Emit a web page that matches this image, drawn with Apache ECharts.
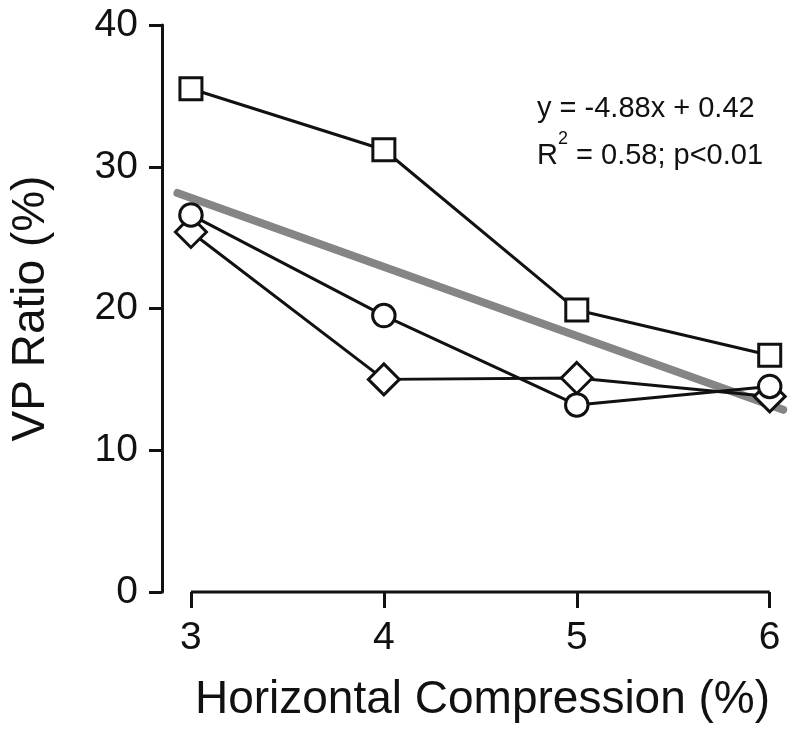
<!DOCTYPE html>
<html>
<head>
<meta charset="utf-8">
<script src="https://cdn.jsdelivr.net/npm/echarts@6/dist/echarts.min.js"></script>
<style>
html,body{margin:0;padding:0;background:#fff;}
#chart{width:800px;height:733px;}
</style>
</head>
<body>
<div id="chart"></div>
<script>
// ---- data ----
const compression = [3, 4, 5, 6];            // Horizontal Compression (%)
const squareSeries = [35.5, 31.2, 19.9, 16.7];  // VP Ratio (%)
const circleSeries = [26.6, 19.5, 13.2, 14.5];
const diamondSeries = [25.4, 15.0, 15.1, 13.8];
const trendX = [2.93, 6.07];                 // regression line ends
const trendY = [28.15, 12.85];
const yTicks = [0, 10, 20, 30, 40];
const equationLine1 = 'y = -4.88x + 0.42';
const equationLine2 = ['R', '2', ' = 0.58; p<0.01'];

const FONT = '"Liberation Sans", Arial, Helvetica, sans-serif';
const INK = '#111111';
const W = 3;

const pairs = (xs, ys) => xs.map((x, i) => [x, ys[i]]);

const markerSeries = (data, symbol, size) => ({
  type: 'line',
  data: pairs(compression, data),
  symbol: symbol,
  symbolSize: size,
  showAllSymbol: true,
  lineStyle: { color: INK, width: W },
  itemStyle: { color: '#ffffff', borderColor: INK, borderWidth: W },
  emphasis: { disabled: true },
  z: 3
});

const chart = echarts.init(document.getElementById('chart'), null, { renderer: 'canvas' });
chart.setOption({
  animation: false,
  backgroundColor: '#ffffff',
  grid: { left: 162, right: 11, top: 25, bottom: 141, containLabel: false },
  xAxis: {
    type: 'value',
    min: 2.85,
    max: 6.1,
    axisLine: { show: false },
    splitLine: { show: false },
    axisTick: {
      show: true, customValues: compression, length: 16,
      lineStyle: { color: INK, width: W }
    },
    axisLabel: {
      customValues: compression, margin: 27,
      fontFamily: FONT, fontSize: 39, color: INK
    },
    name: 'Horizontal Compression (%)',
    nameLocation: 'middle',
    nameGap: 85,
    nameTextStyle: { fontFamily: FONT, fontSize: 46, color: INK, padding: [0, 0, 0, 14] }
  },
  yAxis: {
    type: 'value',
    min: yTicks[0],
    max: yTicks[yTicks.length - 1],
    interval: 10,
    axisLine: { show: true, lineStyle: { color: INK, width: W } },
    axisTick: { show: true, length: 13, lineStyle: { color: INK, width: W } },
    splitLine: { show: false },
    axisLabel: { margin: 24, fontFamily: FONT, fontSize: 39, color: INK },
    name: 'VP Ratio (%)',
    nameLocation: 'middle',
    nameGap: 108,
    nameRotate: 90,
    nameTextStyle: { fontFamily: FONT, fontSize: 46, color: INK }
  },
  graphic: [
    {
      type: 'text',
      left: 537,
      top: 94,
      style: {
        text: equationLine1,
        font: '29px ' + FONT,
        fill: INK
      }
    },
    {
      type: 'text',
      left: 537,
      top: 130,
      style: {
        text: '{b|' + equationLine2[0] + '}{s|' + equationLine2[1] + '}{b|' + equationLine2[2] + '}',
        rich: {
          b: { fontFamily: FONT, fontSize: 29, fill: INK, color: INK, verticalAlign: 'bottom', lineHeight: 40 },
          s: { fontFamily: FONT, fontSize: 18, fill: INK, color: INK, verticalAlign: 'top', lineHeight: 40, padding: [0, 0, 20, 0] }
        }
      }
    }
  ],
  series: [
    {
      type: 'line',
      data: pairs(trendX, trendY),
      symbol: 'none',
      lineStyle: { color: '#858585', width: 8, cap: 'round' },
      emphasis: { disabled: true },
      z: 1
    },
    {
      type: 'line',
      data: [[compression[0], 0], [compression[compression.length - 1], 0]],
      symbol: 'none',
      clip: false,
      lineStyle: { color: INK, width: W },
      emphasis: { disabled: true },
      z: 2
    },
    markerSeries(diamondSeries, 'diamond', 31),
    markerSeries(circleSeries, 'circle', 22.5),
    markerSeries(squareSeries, 'rect', 22)
  ]
});
</script>
</body>
</html>
